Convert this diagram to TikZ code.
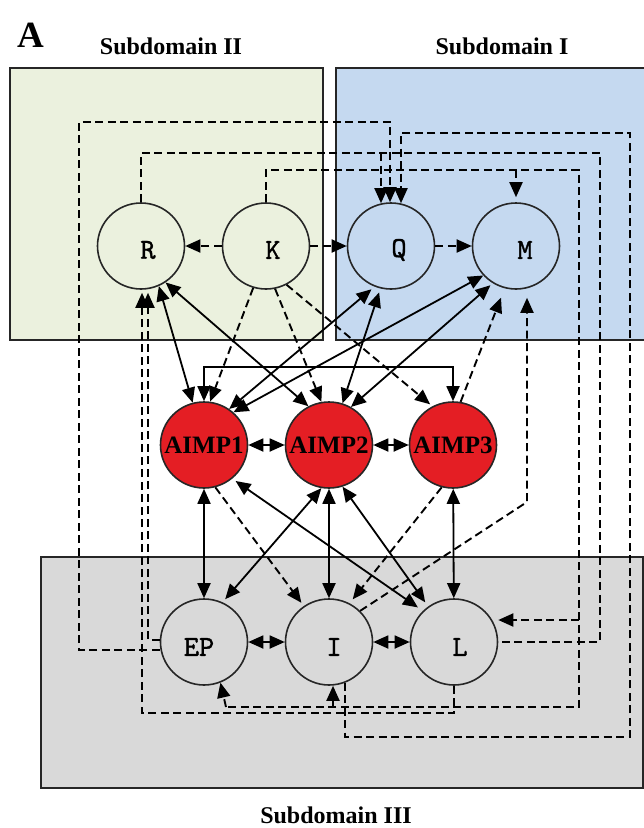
\documentclass[tikz,border=0pt]{standalone}
\usepackage{fontspec}
\setmainfont{Liberation Serif}
\newfontfamily\nodemono[FakeBold=1.2]{lmmono10-regular.otf}
\usetikzlibrary{arrows.meta,shapes.geometric}
\definecolor{greenbg}{RGB}{235,241,222}
\definecolor{bluebg}{RGB}{197,217,240}
\definecolor{graybg}{RGB}{217,217,217}
\definecolor{aimpred}{RGB}{228,30,36}
\begin{document}
\begin{tikzpicture}[x=1pt,y=-1pt,
  >={Triangle[length=15pt,width=13pt]},
  dombox/.style={draw=black!85,line width=1.8pt},
  nd/.style={ellipse,draw=black!85,line width=1.6pt,minimum width=87pt,minimum height=86pt,inner sep=0pt},
  lbl/.style={font=\nodemono\fontsize{29}{29}\selectfont,inner sep=0pt},
  aimp/.style={nd,fill=aimpred,font=\bfseries\fontsize{25}{25}\selectfont},
  sol/.style={line width=1.8pt},
  dsh/.style={line width=1.9pt,dash pattern=on 8pt off 4.5pt},
  ttl/.style={font=\bfseries\fontsize{24}{24}\selectfont,inner sep=0pt}]
\useasboundingbox (0,0) rectangle (644,828);
\fill[white] (0,0) rectangle (644,828);
% domains
\draw[dombox,fill=greenbg] (10,68) rectangle (323,340);
\draw[dombox,fill=bluebg] (336,68) rectangle (646,340);
\draw[dombox,fill=graybg] (41,557) rectangle (643,788);
% titles
\node[ttl] (lblA) at (31,35) {\fontsize{37}{37}\selectfont A};
\node[ttl] (t2) at (171,46) {Subdomain II};
\node[ttl] (t1) at (502,46) {Subdomain I};
\node[ttl] (t3) at (336,815) {Subdomain III};
% nodes
\node[nd,label={[lbl,xshift=7pt,yshift=-4pt]center:R}] (R) at (141,246) {};
\node[nd,label={[lbl,xshift=7pt,yshift=-4pt]center:K}] (K) at (266,246) {};
\node[nd,label={[lbl,xshift=8pt,yshift=-4pt]center:Q}] (Q) at (391,246) {};
\node[nd,label={[lbl,xshift=9pt,yshift=-4pt]center:M}] (M) at (516,246) {};
\node[aimp] (A1) at (204,445) {\makebox[0pt]{AIMP1}};
\node[aimp] (A2) at (329,445) {\makebox[0pt]{AIMP2}};
\node[aimp] (A3) at (453,445) {\makebox[0pt]{AIMP3}};
\node[nd,label={[lbl,xshift=-5pt,yshift=-5pt]center:EP}] (EP) at (204,642) {};
\node[nd,label={[lbl,xshift=5pt,yshift=-5pt]center:I}] (I) at (329,642) {};
\node[nd,label={[lbl,xshift=6pt,yshift=-5pt]center:L}] (L) at (454,642) {};
% junction coordinates
\coordinate (jRQ) at (381,153);
\coordinate (jKM) at (516,170);
\coordinate (jKL) at (579,620);
\coordinate (jKI) at (333,707);
% top row dashed
\draw[dsh,->] (K) -- (R);
\draw[dsh,->] (K) -- (Q);
\draw[dsh,->] (Q) -- (M);
% long dashed loops
\draw[dsh,->] ([yshift=-8pt]EP.west) -- (79,650) -- (79,122) -- (390,122) -- ([xshift=-1pt]Q.north);
\draw[dsh,->] (I.-68) |- (630,737) -- (630,133) -- (401,133) -- ([xshift=10pt,yshift=-1pt]Q.north);
\draw[dsh] (R.north) |- (600,153) |- (L.east);
\draw[dsh,->] (jRQ) -- ([xshift=-10pt,yshift=-1pt]Q.north);
\draw[dsh] (K.north) |- (579,170) -- (579,707) -- (226,707);
\draw[dsh,->] (226,707) -- (EP.-68);
\draw[dsh,->,shorten >=5pt] (jKM) -- (M.north);
\draw[dsh,->] (jKL) -- (jKL -| L.east);
\draw[dsh,->] (jKI) -- ([xshift=4pt]I.south);
\draw[dsh,->,shorten >=3pt] (L.south) |- (142,713) -- ([xshift=1pt]R.south);
\draw[dsh,->,shorten >=3pt] ([yshift=2pt]EP.west) -| ([xshift=7pt]R.south);
\draw[dsh,->,shorten >=8pt] (I.45) -- (527,502) -- ([xshift=11pt]M.south);
% dashed diagonals
\draw[dsh,->,shorten >=10pt] (A3.80) -- (M.-105);
\draw[dsh,->] (K.-107) -- (A1.82);
\draw[dsh,->] (K.-78) -- (A2.100);
\draw[dsh,->,shorten >=3pt] (K.-62) -- (A3.118);
\draw[dsh,->,shorten >=4pt] (A1.-75) -- (I.125);
\draw[dsh,->,shorten >=5pt] (A3.-105) -- (I.62);
% solid upper connections
\draw[sol,<->] (R.-66) -- (A1.105);
\draw[sol,<->] (R.-56) -- (A2.118);
\draw[sol,<->,shorten <=4pt] (Q.-112) -- (A1.55);
\draw[sol,<->,shorten <=4pt] (Q.-104) -- (A2.72);
\draw[sol,<->] (M.-138) -- (A1.48);
\draw[sol,<->,shorten <=3pt] (M.-122) -- (A2.60);
% bracket
\draw[sol,<->] (A1.north) -- (A1.north |- 0,367) -| (A3.north);
% horizontal
\draw[sol,<->] (A1) -- (A2);
\draw[sol,<->] (A2) -- (A3);
\draw[sol,<->] (EP) -- (I);
\draw[sol,<->] (I) -- (L);
% vertical
\draw[sol,<->] (A1) -- (EP);
\draw[sol,<->] (A2) -- (I);
\draw[sol,<->] (A3) -- (L);
% lower diagonals
\draw[sol,<->,shorten >=4pt] (A2.-100) -- (EP.65);
\draw[sol,<->,shorten >=6pt,shorten <=4pt] (A1.-50) -- (L.135);
\draw[sol,<->,shorten >=5pt] (A2.-72) -- (L.126);
\end{tikzpicture}
\end{document}
